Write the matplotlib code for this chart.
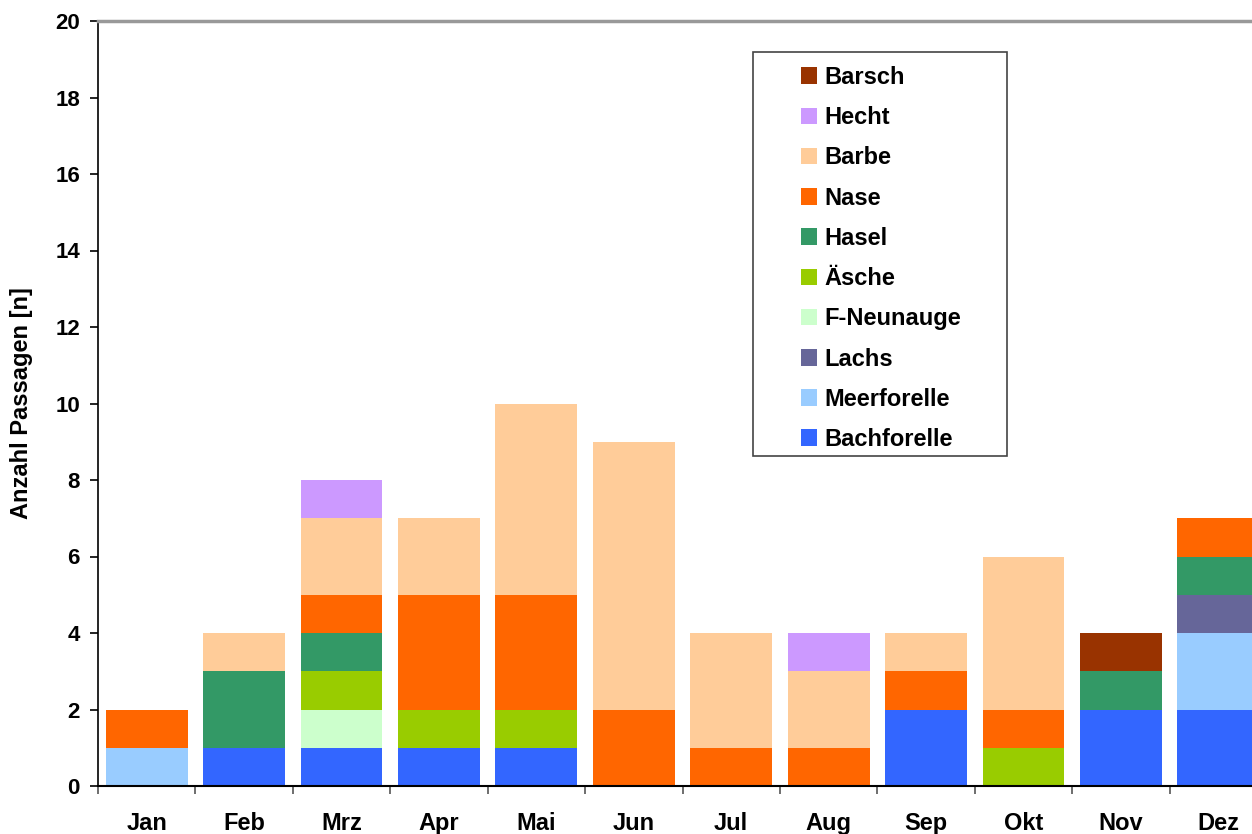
import matplotlib.pyplot as plt
import numpy as np
from matplotlib.patches import Rectangle

plt.rcParams["font.family"] = ["Liberation Sans", "DejaVu Sans"]
plt.rcParams["font.weight"] = "bold"

months = ["Jan", "Feb", "Mrz", "Apr", "Mai", "Jun", "Jul", "Aug", "Sep", "Okt", "Nov", "Dez"]

# stacked from bottom to top
species = ["Bachforelle", "Meerforelle", "Lachs", "F-Neunauge", "Äsche",
           "Hasel", "Nase", "Barbe", "Hecht", "Barsch"]
colors = ["#3366FF", "#99CCFF", "#666699", "#CCFFCC", "#99CC00",
          "#339966", "#FF6600", "#FFCC99", "#CC99FF", "#993300"]

bachforelle = [0, 1, 1, 1, 1, 0, 0, 0, 2, 0, 2, 2]
meerforelle = [1, 0, 0, 0, 0, 0, 0, 0, 0, 0, 0, 2]
lachs       = [0, 0, 0, 0, 0, 0, 0, 0, 0, 0, 0, 1]
neunauge    = [0, 0, 1, 0, 0, 0, 0, 0, 0, 0, 0, 0]
aesche      = [0, 0, 1, 1, 1, 0, 0, 0, 0, 1, 0, 0]
hasel       = [0, 2, 1, 0, 0, 0, 0, 0, 0, 0, 1, 1]
nase        = [1, 0, 1, 3, 3, 2, 1, 1, 1, 1, 0, 1]
barbe       = [0, 1, 2, 2, 5, 7, 3, 2, 1, 4, 0, 0]
hecht       = [0, 0, 1, 0, 0, 0, 0, 1, 0, 0, 0, 0]
barsch      = [0, 0, 0, 0, 0, 0, 0, 0, 0, 0, 1, 0]

series = [bachforelle, meerforelle, lachs, neunauge, aesche,
          hasel, nase, barbe, hecht, barsch]

fig = plt.figure(figsize=(12.52, 8.34), dpi=100)
ax = fig.add_axes([98 / 1252, 48 / 834, 1169 / 1252, 765 / 834])

x = np.arange(len(months))
bottom = np.zeros(len(months))
handles = []
for name, vals, col in zip(species, series, colors):
    b = ax.bar(x, vals, bottom=bottom, width=0.84, color=col, label=name)
    handles.append(b)
    bottom += np.array(vals)

ax.set_xlim(-0.5, 11.5)
ax.set_ylim(0, 20)
ax.set_yticks(range(0, 21, 2))
ax.tick_params(axis="y", labelsize=16, length=6, width=1.2, direction="out", pad=7)

ax.set_xticks(np.arange(-0.5, 12, 1))
ax.set_xticklabels([])
ax.tick_params(axis="x", which="major", length=6, width=1.2, direction="out", color="#555555")
ax.set_xticks(x, minor=True)
ax.set_xticklabels(months, minor=True, fontsize=17, fontweight="bold")
ax.tick_params(axis="x", which="minor", length=0, pad=19)

ax.set_ylabel("Anzahl Passagen [n]", fontsize=17, fontweight="bold")
ax.yaxis.set_label_coords(-0.056, 0.5)

ax.spines["right"].set_visible(False)
ax.spines["top"].set_color("#999999")
ax.spines["top"].set_linewidth(2.5)
ax.spines["left"].set_linewidth(1.2)
ax.spines["bottom"].set_linewidth(1.5)

# legend box
fig.patches.append(Rectangle((753 / 1252, 1 - 456 / 834), 254 / 1252, 404 / 834,
                             transform=fig.transFigure, facecolor="white",
                             edgecolor="#444444", linewidth=1.2, zorder=5))
leg = fig.legend(handles[::-1], species[::-1], loc="upper left",
                 bbox_to_anchor=(782 / 1252, 1 - 47 / 834), frameon=False,
                 fontsize=17, handlelength=0.7, handleheight=0.7,
                 handletextpad=0.3, labelspacing=0.73, borderpad=0.3)
leg.set_zorder(6)
for t in leg.get_texts():
    t.set_fontweight("bold")

fig.savefig("out.png", dpi=100)
